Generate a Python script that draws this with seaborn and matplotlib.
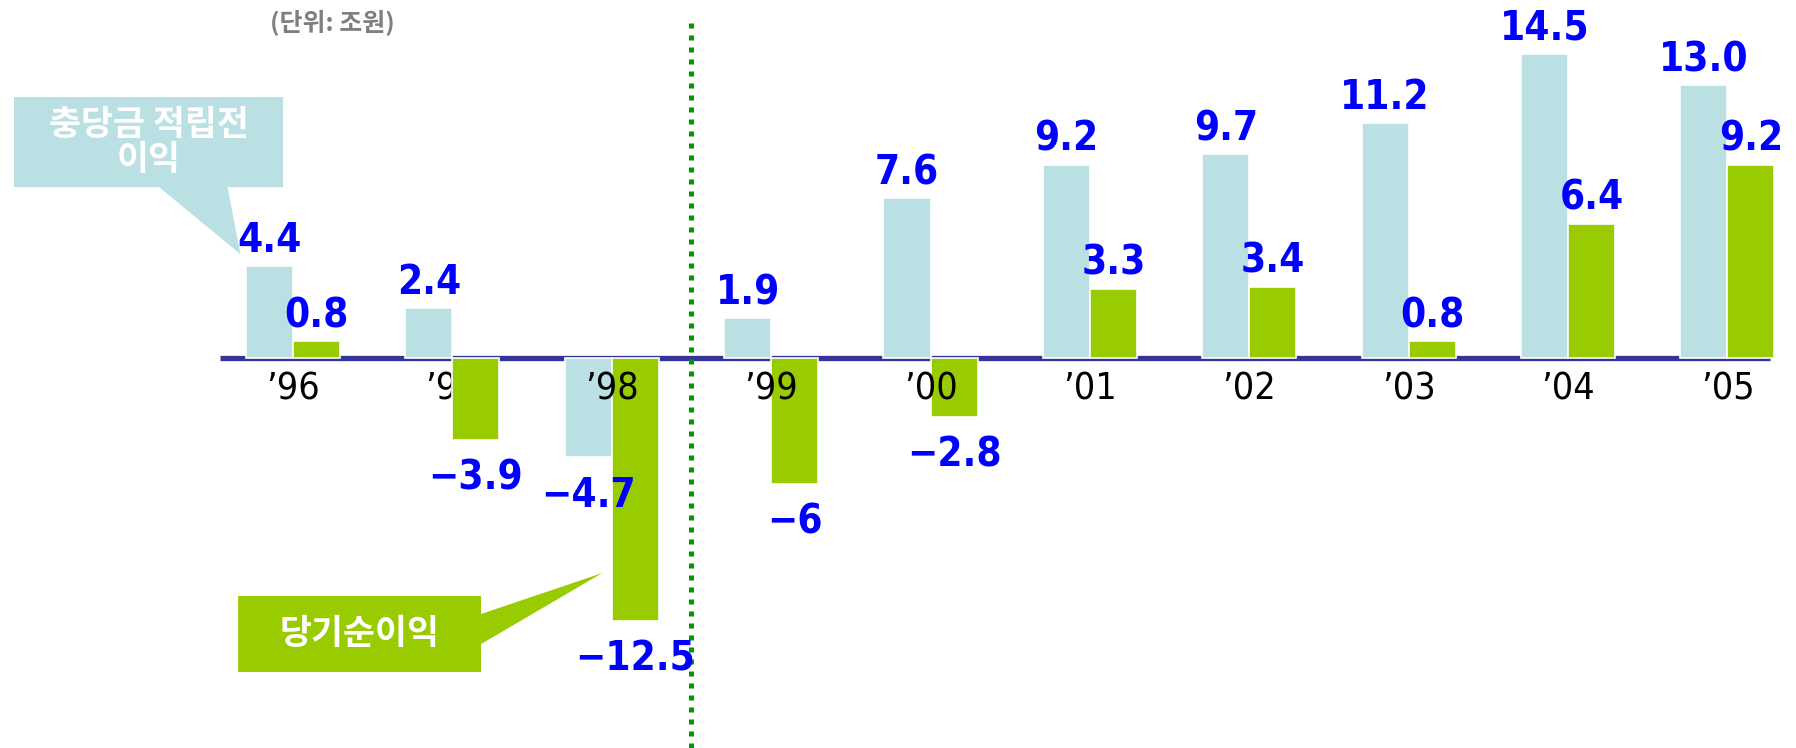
import matplotlib
matplotlib.use('Agg')
import matplotlib.pyplot as plt
import seaborn as sns
import pandas as pd
from matplotlib.patches import Polygon
from matplotlib import font_manager as fm

# ---------------- data ----------------
years = ['’96', '’97', '’98', '’99', '’00', '’01', '’02', '’03', '’04', '’05']
series_names = ['충당금 적립전 이익', '당기순이익']
pre_provision = [4.4, 2.4, -4.7, 1.9, 7.6, 9.2, 9.7, 11.2, 14.5, 13.0]
net_income = [0.8, -3.9, -12.5, -6.0, -2.8, 3.3, 3.4, 0.8, 6.4, 9.2]
pre_labels = ['4.4', '2.4', '−4.7', '1.9', '7.6', '9.2', '9.7', '11.2', '14.5', '13.0']
net_labels = ['0.8', '−3.9', '−12.5', '−6', '−2.8', '3.3', '3.4', '0.8', '6.4', '9.2']
callout_pre = '충당금 적립전\n이익'
callout_net = '당기순이익'
unit_label = '(단위: 조원)'

# ---------------- style ----------------
sns.set_theme(style='white')

STRETCH = {'ultra-condensed': 50, 'extra-condensed': 62.5, 'condensed': 75,
           'semi-condensed': 87.5, 'normal': 100, 'semi-expanded': 112.5,
           'expanded': 125, 'extra-expanded': 150, 'ultra-expanded': 200}
WEIGHT = {'ultralight': 100, 'light': 300, 'normal': 400, 'regular': 400,
          'book': 400, 'medium': 500, 'roman': 400, 'semibold': 600,
          'demibold': 600, 'demi': 600, 'bold': 700, 'heavy': 800,
          'extra bold': 800, 'black': 900}


def sval(s):
    try:
        return float(s)
    except (TypeError, ValueError):
        return STRETCH.get(str(s).lower(), 100)


def wval(w):
    try:
        return float(w)
    except (TypeError, ValueError):
        return WEIGHT.get(str(w).lower(), 400)


PREF = ['Noto Sans', 'Open Sans', 'Roboto', 'Liberation Sans Narrow',
        'DejaVu Sans', 'Lato', 'Inter', 'Liberation Sans']


def pick_font(target_weight, target_stretch=62.5):
    best, best_score = None, None
    for f in fm.fontManager.ttflist:
        fn = f.fname.lower()
        if f.name not in PREF:
            continue
        if str(f.style).lower() != 'normal' or 'oblique' in fn or 'italic' in fn:
            continue
        st = sval(f.stretch)
        if f.name == 'Liberation Sans Narrow':
            st = 82
        if 'condensed' in fn and st == 100:
            continue
        score = (abs(st - target_stretch) * 3 + abs(wval(f.weight) - target_weight) / 10
                 + PREF.index(f.name) * 0.5)
        if best_score is None or score < best_score:
            best, best_score = f, score
    if best is None:
        return fm.FontProperties(family='DejaVu Sans', weight=target_weight)
    return fm.FontProperties(fname=best.fname)


fp_value = pick_font(700)
fp_tick = pick_font(400)

plt.rcParams['font.family'] = ['DejaVu Sans', 'Noto Sans CJK KR']
plt.rcParams['axes.unicode_minus'] = True

c_light = '#BBE0E3'
c_green = '#99CC00'
c_axis = '#333399'
c_dots = '#009900'
c_value = '#0000FF'

df = pd.DataFrame({
    'year': years * 2,
    'series': [series_names[0]] * len(years) + [series_names[1]] * len(years),
    'value': pre_provision + net_income,
})

fig = plt.figure(figsize=(17.96, 7.48), dpi=100)
ax = fig.add_axes([0, 0, 1, 1])

sns.barplot(data=df, x='year', y='value', hue='series', order=years,
            hue_order=series_names, palette=[c_light, c_green], saturation=1,
            width=0.59, edgecolor='white', linewidth=1.2, errorbar=None,
            legend=False, ax=ax, zorder=2)

ax.set_xlim(-1.838, 9.43)
ax.set_ylim(-18.57, 17.05)
ax.axis('off')

# zero baseline
ax.hlines(0, -0.457, 9.27, color=c_axis, linewidth=3.8, zorder=1)

# dotted divider between '98 and '99
ax.vlines(2.5, -18.57, 16.05, color=c_dots, linewidth=3.6,
          linestyles=[(0, (1.0, 1.4))], zorder=1)

# value labels
for container, labels in zip(ax.containers, [pre_labels, net_labels]):
    for bar, lab in zip(container, labels):
        xc = bar.get_x() + bar.get_width() / 2
        if bar.get_height() >= 0:
            yv = bar.get_y() + bar.get_height()
            off = 18
        else:
            yv = min(bar.get_y(), bar.get_y() + bar.get_height())
            off = -28
        ax.annotate(lab, (xc, yv), xytext=(0, off), textcoords='offset points',
                    ha='center', va='center', color=c_value, fontproperties=fp_value,
                    fontsize=29, zorder=6)

# category labels just below the baseline
for i, yr in enumerate(years):
    ax.text(i, -1.52, yr, ha='center', va='center', fontproperties=fp_tick,
            fontsize=27, color='black', zorder=5 if i != 1 else 1.5)

# callout: pre-provision income
x0, x1, yt, yb = -1.750, -0.062, 12.43, 8.14
poly = Polygon([(x0, yt), (x1, yt), (x1, yb), (-0.41, yb), (-0.33, 4.95),
                (-0.84, yb), (x0, yb)], closed=True, facecolor=c_light,
               edgecolor='none', zorder=3)
ax.add_patch(poly)
ax.text((x0 + x1) / 2, (yt + yb) / 2, callout_pre, ha='center', va='center',
        color='white', fontsize=25, fontweight='bold', linespacing=1.0,
        family=['Noto Sans CJK KR'], zorder=4)

# callout: net income
x0, x1, yt, yb = -0.344, 1.180, -11.33, -14.95
poly = Polygon([(x0, yt), (x1, yt), (x1, -12.19), (1.94, -10.24), (x1, -13.62),
                (x1, yb), (x0, yb)], closed=True, facecolor=c_green,
               edgecolor='none', zorder=3)
ax.add_patch(poly)
ax.text((x0 + x1) / 2, (yt + yb) / 2, callout_net, ha='center', va='center',
        color='white', fontsize=25, fontweight='bold',
        family=['Noto Sans CJK KR'], zorder=4)

# unit label
fig.text(0.185, 0.969, unit_label, ha='center', va='center', color='#7F7F7F',
         fontsize=18, fontweight='bold', family=['Noto Sans CJK KR'])

fig.savefig('out.png', dpi=100)
